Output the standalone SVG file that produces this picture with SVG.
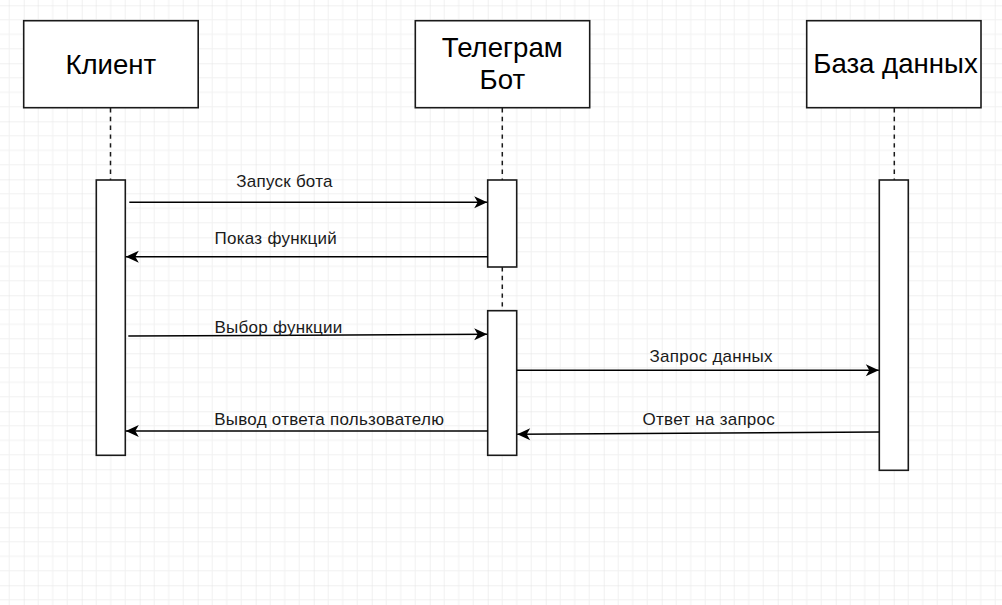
<svg xmlns="http://www.w3.org/2000/svg" width="1002" height="605" viewBox="0 0 1002 605">
  <defs>
    <pattern id="grid" x="23.7" y="5.3" width="58" height="58" patternUnits="userSpaceOnUse">
      <path d="M14.5 0V58M29 0V58M43.5 0V58M0 14.5H58M0 29H58M0 43.5H58" stroke="#f1f1f1" stroke-width="1" fill="none"/>
      <path d="M0 0V58M0 0H58" stroke="#e2e2e2" stroke-width="1" fill="none"/>
    </pattern>
    <marker id="arr" markerUnits="userSpaceOnUse" markerWidth="16" markerHeight="14" refX="14" refY="7" orient="auto" viewBox="0 0 16 14">
      <path d="M14 7 L1 1 L4.5 7 L1 13 Z" fill="#000"/>
    </marker>
  </defs>
  <style>
    .box { fill: #fff; stroke: #1a1a1a; stroke-width: 1.6; }
    .life { stroke: #1a1a1a; stroke-width: 1.5; stroke-dasharray: 4.4 4.4; fill: none; }
    .msg { stroke: #000; stroke-width: 1.5; fill: none; marker-end: url(#arr); }
    .hdr { font-family: "Liberation Sans", Arial, sans-serif; font-size: 27.6px; fill: #000; text-anchor: middle; }
    .lbl { font-family: "Liberation Sans", Arial, sans-serif; font-size: 17px; letter-spacing: 0.25px; fill: #1a1a1a; text-anchor: middle; }
  </style>
  <rect width="1002" height="605" fill="#fff"/>
  <rect width="1002" height="605" fill="url(#grid)"/>

  <g id="lifelines">
    <line class="life" x1="110.5" y1="108" x2="110.5" y2="180"/>
    <line class="life" x1="502.3" y1="108" x2="502.3" y2="180"/>
    <line class="life" x1="502.3" y1="267" x2="502.3" y2="311"/>
    <line class="life" x1="894.3" y1="108" x2="894.3" y2="180"/>
  </g>

  <g id="client">
    <rect class="box" x="23.7" y="20.7" width="174.5" height="87"/>
    <text class="hdr" x="110.8" y="74">Клиент</text>
  </g>
  <g id="bot">
    <rect class="box" x="415.3" y="20.7" width="174.4" height="87"/>
    <text class="hdr" x="502.3" y="57.3">Телеграм</text>
    <text class="hdr" x="502.3" y="89">Бот</text>
  </g>
  <g id="db">
    <rect class="box" x="806.7" y="20.7" width="174.3" height="87"/>
    <text class="hdr" x="895.5" y="73.3">База данных</text>
  </g>

  <g id="client-activation">
    <rect class="box" x="96.3" y="180" width="29" height="275.3"/>
  </g>
  <g id="bot-activation-1">
    <rect class="box" x="487.7" y="180" width="29" height="87"/>
  </g>
  <g id="bot-activation-2">
    <rect class="box" x="487.7" y="310.7" width="29" height="144.6"/>
  </g>
  <g id="db-activation">
    <rect class="box" x="879.3" y="180" width="29" height="290.3"/>
  </g>

  <g id="connectors">
    <path class="msg" d="M129.3 202.3 H487.2"/>
    <path class="msg" d="M487.7 256.7 H125.8"/>
    <path class="msg" d="M128.3 336 L487.2 334.3"/>
    <path class="msg" d="M516.7 370.3 H878.8"/>
    <path class="msg" d="M487.7 431 H125.8"/>
    <path class="msg" d="M879.3 432 L517.2 434.3"/>
  </g>

  <g id="labels">
    <text class="lbl" x="284.5" y="187.3">Запуск бота</text>
    <text class="lbl" x="275.8" y="244">Показ функций</text>
    <text class="lbl" x="278.5" y="333.3">Выбор функции</text>
    <text class="lbl" x="329.2" y="425">Вывод ответа пользователю</text>
    <text class="lbl" x="711.2" y="362.3">Запрос данных</text>
    <text class="lbl" x="708.8" y="425">Ответ на запрос</text>
  </g>
</svg>
